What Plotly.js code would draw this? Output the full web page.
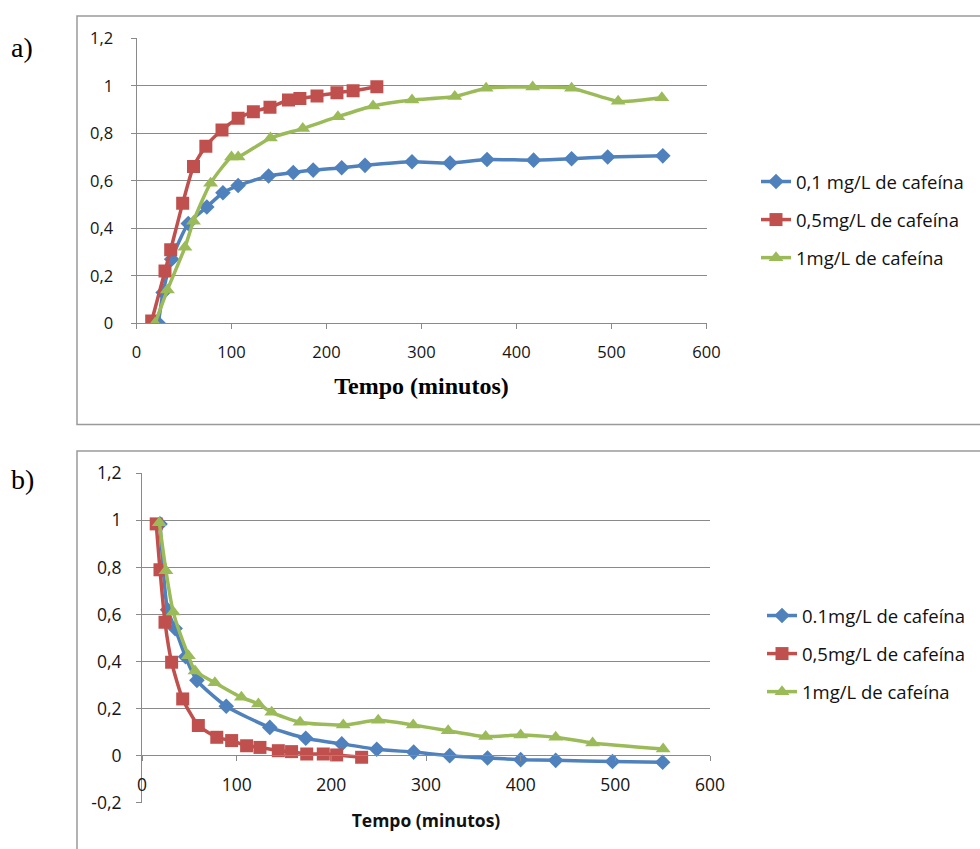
<!DOCTYPE html>
<html><head><meta charset="utf-8">
<script src="https://cdn.plot.ly/plotly-3.0.1.min.js"></script>
<style>body{margin:0;background:#fff}#chart{width:980px;height:849px}</style>
</head><body><div id="chart"></div><script>
// Series names
const namesA = ["0,1 mg/L de cafeína", "0,5mg/L de cafeína", "1mg/L de cafeína"];
const namesB = ["0.1mg/L de cafeína", "0,5mg/L de cafeína", "1mg/L de cafeína"];

// Chart a) data
const aBlueX = [23, 28, 37, 54.5, 74, 91, 107, 139, 165, 186, 216, 240.5, 290, 330, 369, 418, 458, 496, 554];
const aBlueY = [0, 0.13, 0.27, 0.42, 0.49, 0.55, 0.58, 0.62, 0.635, 0.645, 0.655, 0.665, 0.68, 0.675, 0.69, 0.687, 0.693, 0.70, 0.705];
const aRedX = [16, 30, 36, 48.6, 60, 73, 90, 107, 123, 140.5, 160, 172, 190, 211, 228, 253];
const aRedY = [0.01, 0.22, 0.31, 0.505, 0.66, 0.746, 0.814, 0.863, 0.891, 0.91, 0.94, 0.947, 0.957, 0.971, 0.979, 0.996];
const aGreenX = [19.5, 32.5, 51, 60, 78, 100, 107, 141, 175, 212, 249, 290, 335, 368, 417, 458, 507, 553];
const aGreenY = [0, 0.14, 0.32, 0.43, 0.59, 0.70, 0.70, 0.78, 0.82, 0.87, 0.915, 0.94, 0.955, 0.99, 0.995, 0.99, 0.935, 0.95];

// Chart b) data
const bBlueX = [19, 27, 35, 46, 58, 89, 135, 173, 211, 248, 287, 325, 365, 400, 437, 497, 550];
const bBlueY = [0.985, 0.62, 0.54, 0.42, 0.32, 0.21, 0.12, 0.074, 0.05, 0.027, 0.015, 0.0, -0.01, -0.017, -0.02, -0.025, -0.028];
const bRedX = [15, 19, 24.3, 31.3, 43, 59.5, 79, 94.7, 110.5, 124.6, 144, 158, 174, 191.5, 205.6, 232];
const bRedY = [0.985, 0.79, 0.567, 0.397, 0.241, 0.128, 0.078, 0.064, 0.042, 0.035, 0.021, 0.017, 0.007, 0.007, 0.003, -0.007];
const bGreenX = [18.3, 25.3, 33, 49, 56, 77, 105, 123, 137, 167, 212.6, 249.5, 286.5, 323.4, 363, 400, 437, 476, 550.5];
const bGreenY = [0.99, 0.786, 0.61, 0.425, 0.36, 0.31, 0.248, 0.22, 0.184, 0.142, 0.13, 0.15, 0.13, 0.106, 0.081, 0.088, 0.078, 0.054, 0.028];

// Tick labels
const xTicks = [0, 100, 200, 300, 400, 500, 600];
const yTicksA = [0, 0.2, 0.4, 0.6, 0.8, 1, 1.2];
const yTextA = ["0", "0,2", "0,4", "0,6", "0,8", "1", "1,2"];
const yTicksB = [-0.2, 0, 0.2, 0.4, 0.6, 0.8, 1, 1.2];
const yTextB = ["-0,2", "0", "0,2", "0,4", "0,6", "0,8", "1", "1,2"];

const colors = ["#4F81BD", "#C0504D", "#9BBB59"];
const symbols = ["diamond", "square", "triangle-up"];
const sizes = [12, 13, 13];

function mk(x, y, i, name, xa, ya, leg) {
  return {
    x: x, y: y, name: name, xaxis: xa, yaxis: ya, legend: leg,
    legendgroup: leg + i,
    type: "scatter", mode: "lines+markers",
    line: {color: colors[i], width: 3.5, shape: "spline", smoothing: 0.6},
    marker: {color: colors[i], symbol: symbols[i], size: sizes[i]}
  };
}

const traces = [
  mk(aBlueX, aBlueY, 0, namesA[0], "x", "y", "legend"),
  mk(aRedX, aRedY, 1, namesA[1], "x", "y", "legend"),
  mk(aGreenX, aGreenY, 2, namesA[2], "x", "y", "legend"),
  mk(bBlueX, bBlueY, 0, namesB[0], "x2", "y2", "legend2"),
  mk(bRedX, bRedY, 1, namesB[1], "x2", "y2", "legend2"),
  mk(bGreenX, bGreenY, 2, namesB[2], "x2", "y2", "legend2")
];

const W = 980, H = 849;
const px = v => v / W;
const py = v => 1 - v / H;
const gray = "#8a8a8a";
const fam = "'Open Sans', sans-serif";
const tickFontA = {family: fam, size: 16.5, color: "#151515"};
const tickFontB = {family: fam, size: 17.5, color: "#151515"};
const legFont = {family: fam, size: 18.5, color: "#111"};

const baseX = {
  range: [0, 600], tickvals: xTicks, showgrid: false, zeroline: false,
  showline: true, linecolor: gray, linewidth: 1, ticks: "outside", ticklen: 5,
  tickcolor: gray, fixedrange: true
};
const baseY = {
  showgrid: true, gridcolor: gray, gridwidth: 1, zeroline: false,
  showline: true, linecolor: gray, linewidth: 1, ticks: "outside", ticklen: 5,
  tickcolor: gray, fixedrange: true
};

const layout = {
  width: W, height: H,
  margin: {l: 0, r: 0, t: 0, b: 0},
  paper_bgcolor: "#fff", plot_bgcolor: "#fff",
  separators: ", ",
  xaxis: Object.assign({}, baseX, {
    domain: [px(136.5), px(706.5)], anchor: "y", tickfont: tickFontA, ticklabelstandoff: 9,
    title: {text: "<b>Tempo (minutos)</b>", font: {family: "'Liberation Serif', serif", size: 24, color: "#000"}, standoff: 15}
  }),
  yaxis: Object.assign({}, baseY, {
    domain: [py(323.3), py(38.3)], anchor: "x", range: [0, 1.2], tickfont: tickFontA, ticklabelstandoff: 14,
    tickvals: yTicksA, ticktext: yTextA
  }),
  xaxis2: Object.assign({}, baseX, {
    domain: [px(142), px(710)], anchor: "free", position: py(755), tickfont: tickFontB, ticklabelstandoff: 9,
    title: {text: "<b>Tempo (minutos)</b>", font: {family: fam, size: 17.5, color: "#111"}, standoff: 19}
  }),
  yaxis2: Object.assign({}, baseY, {
    domain: [py(802.7), py(473.3)], anchor: "x2", range: [-0.2, 1.2], tickfont: tickFontB, ticklabelstandoff: 11,
    tickvals: yTicksB, ticktext: yTextB
  }),
  legend: {
    x: px(756), y: py(163), xanchor: "left", yanchor: "top",
    font: legFont, bgcolor: "rgba(0,0,0,0)", traceorder: "grouped", tracegroupgap: 11
  },
  legend2: {
    x: px(762), y: py(597), xanchor: "left", yanchor: "top",
    font: legFont, bgcolor: "rgba(0,0,0,0)", traceorder: "grouped", tracegroupgap: 11
  },
  shapes: [
    {type: "rect", xref: "paper", yref: "paper", x0: px(77), x1: 1.02, y0: py(424.5), y1: py(16),
     line: {color: "#9a9a9a", width: 1.5}, layer: "below"},
    {type: "rect", xref: "paper", yref: "paper", x0: px(77), x1: 1.02, y0: -0.05, y1: py(451),
     line: {color: "#9a9a9a", width: 1.5}, layer: "below"}
  ],
  annotations: [
    {text: "a)", xref: "paper", yref: "paper", x: px(9), y: py(48), xanchor: "left", yanchor: "middle",
     showarrow: false, font: {family: "'Liberation Serif', serif", size: 28, color: "#000"}},
    {text: "b)", xref: "paper", yref: "paper", x: px(9), y: py(479), xanchor: "left", yanchor: "middle",
     showarrow: false, font: {family: "'Liberation Serif', serif", size: 28, color: "#000"}}
  ],
  showlegend: true
};

Plotly.newPlot("chart", traces, layout, {displayModeBar: false, staticPlot: true});
</script></body></html>
